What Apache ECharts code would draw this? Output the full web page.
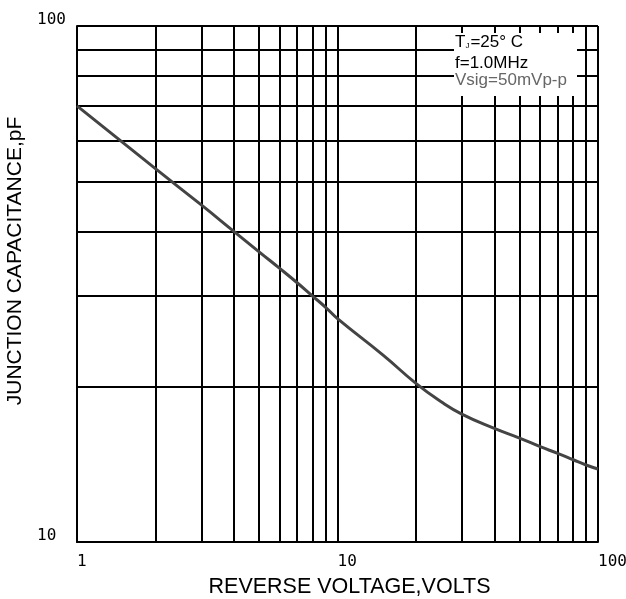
<!DOCTYPE html>
<html>
<head>
<meta charset="utf-8">
<script src="https://cdn.jsdelivr.net/npm/echarts@6/dist/echarts.min.js"></script>
<style>html,body{margin:0;padding:0;background:#fff}#c{width:626px;height:599px}</style>
</head>
<body>
<div id="c"></div>
<script>
var voltage = [1, 2, 3, 4, 5, 6, 7, 8, 9, 10, 15, 20, 25, 30, 40, 50, 60, 70, 80, 90, 100];
var capacitance = [70, 52.9, 45, 40, 36.5, 33.9, 31.8, 30, 28.5, 27.1, 23.0, 20.3, 18.7, 17.7, 16.6, 15.9, 15.3, 14.85, 14.45, 14.1, 13.85];
var xMinorGrid = [2, 3, 4, 5, 6, 7, 8, 9, 20, 30, 40, 50, 60, 70, 80, 90];
var yMinorGrid = [20, 30, 40, 50, 60, 70, 80, 90];
var xTitle = 'REVERSE VOLTAGE,VOLTS';
var yTitle = 'JUNCTION CAPACITANCE,pF';
var noteLines = ['TJ=25° C', 'f=1.0MHz', 'Vsig=50mVp-p'];

var chart = echarts.init(document.getElementById('c'), null, {renderer: 'canvas'});
var gridLine = {color: '#000', width: 2, type: 'solid'};
var labelFont = {fontFamily: 'DejaVu Sans Mono', fontSize: 16, color: '#000'};

var gridMarks = xMinorGrid.map(function (v) { return {xAxis: v}; })
  .concat(yMinorGrid.map(function (v) { return {yAxis: v}; }));

chart.setOption({
  animation: false,
  backgroundColor: '#fff',
  grid: {left: 77, right: 28, top: 26, bottom: 57, containLabel: false, outerBoundsMode: 'none'},
  xAxis: {
    type: 'log', logBase: 10, min: 1, max: 100,
    name: xTitle, nameLocation: 'middle', nameGap: 34,
    nameTextStyle: {fontFamily: 'Liberation Sans', fontSize: 21.5, color: '#000', padding: [0, 0, 0, 24]},
    axisLine: {show: true, lineStyle: gridLine},
    axisTick: {show: false},
    splitLine: {show: true, lineStyle: gridLine},
    axisLabel: Object.assign({align: 'left', margin: 12}, labelFont)
  },
  yAxis: {
    type: 'log', logBase: 10, min: 10, max: 100,
    name: yTitle, nameLocation: 'middle', nameGap: 42,
    nameTextStyle: {fontFamily: 'Liberation Sans', fontSize: 21, color: '#000', padding: [0, 0, 0, 46]},
    axisLine: {show: true, lineStyle: gridLine},
    axisTick: {show: false},
    splitLine: {show: true, lineStyle: gridLine},
    axisLabel: Object.assign({align: 'left', margin: 40, verticalAlign: 'bottom', lineHeight: 12}, labelFont)
  },
  series: [
    {
      type: 'line', data: [], z: 1, silent: true,
      markLine: {
        silent: true, symbol: 'none', label: {show: false},
        lineStyle: gridLine, emphasis: {disabled: true},
        data: gridMarks
      }
    },
    {
      type: 'line', z: 5,
      data: voltage.map(function (v, i) { return [v, capacitance[i]]; }),
      smooth: 0.5, showSymbol: false,
      lineStyle: {color: '#444', width: 3}
    }
  ],
  graphic: [
    {type: 'rect', z: 100, shape: {x: 454, y: 33, width: 123, height: 63}, style: {fill: '#fff'}},
    {type: 'text', z: 101, left: 455, top: 34, style: {
      text: '{a|T}{s|J}{a|=25° C}',
      rich: {a: {fontFamily: 'Liberation Sans', fontSize: 17, fill: '#000'},
             s: {fontFamily: 'Liberation Sans', fontSize: 8, fill: '#000', padding: [7, 1, 0, 0]}}
    }},
    {type: 'text', z: 101, left: 455, top: 55, style: {text: noteLines[1], font: '17px "Liberation Sans"', fill: '#000'}},
    {type: 'text', z: 101, left: 455, top: 72, style: {text: noteLines[2], font: '17px "Liberation Sans"', fill: '#666'}}
  ]
});
</script>
</body>
</html>
